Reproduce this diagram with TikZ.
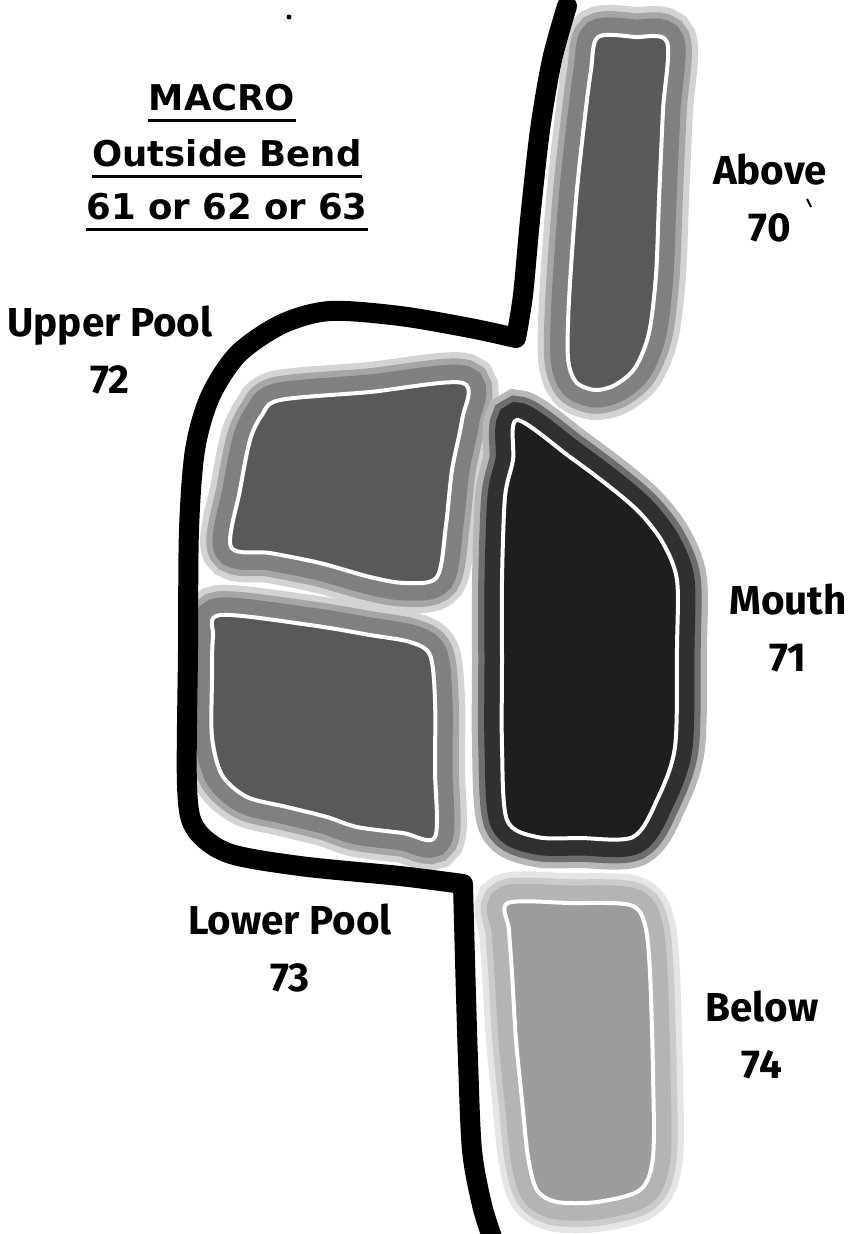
\documentclass[tikz,border=0pt]{standalone}
\usepackage{fontspec}
\setmainfont{Fira Sans}
\newfontfamily\titlefont{DejaVu Sans}
\usepackage{tikz}
\usetikzlibrary{positioning}
\definecolor{poolgray}{HTML}{595959}
\definecolor{halogray}{HTML}{808080}
\definecolor{mouthgray}{HTML}{1E1E1E}
\definecolor{mouthhalo}{HTML}{303030}
\definecolor{belowgray}{HTML}{9C9C9C}
\definecolor{belowhalo}{HTML}{B4B4B4}

\begin{document}
\begin{tikzpicture}[x=0.02cm, y=-0.02cm,
  bank/.style={line width=0.4cm, line cap=round, line join=round},
  lbl/.style={font=\fontsize{23}{32}\selectfont\bfseries, align=center},
  ttl/.style={font=\titlefont\fontsize{20.2}{25}\selectfont\bfseries, inner sep=0pt},
  uline/.style={line width=0.05cm}]
  \useasboundingbox (0,0) rectangle (856,1234);

  % Above
  \foreach \lw/\dc/\fc in {1.2/halogray!35!white/halogray!35!white, 0.95/halogray!70!white/halogray!70!white,
                           0.7/halogray/halogray, 0.08/white/poolgray}
    \draw[line width=\lw cm, draw=\dc, fill=\fc] plot[smooth cycle, tension=0.5] coordinates {
      (598,37) (635,37) (667,42) (663,110) (659,200) (656,275) (649,333) (635,368) (615,385)
      (595,390) (576,382) (568,358) (569,300) (576,200) (584,125) (591,70)};

  % Upper Pool
  \foreach \lw/\dc/\fc in {1.2/halogray!35!white/halogray!35!white, 0.95/halogray!70!white/halogray!70!white,
                           0.7/halogray/halogray, 0.08/white/poolgray}
    \draw[line width=\lw cm, draw=\dc, fill=\fc] plot[smooth cycle, tension=0.5] coordinates {
      (280,400) (370,392) (463,383) (462,420) (452,470) (446,525) (437,577) (405,583) (370,577)
      (320,563) (270,553) (231,547) (240,490) (250,440) (262,415)};

  % Lower Pool
  \foreach \lw/\dc/\fc in {1.2/halogray!35!white/halogray!35!white, 0.95/halogray!70!white/halogray!70!white,
                           0.7/halogray/halogray, 0.08/white/poolgray}
    \draw[line width=\lw cm, draw=\dc, fill=\fc] plot[smooth cycle, tension=0.5] coordinates {
      (220,615) (310,625) (370,635) (410,642) (430,655) (435,700) (435,770) (435,837) (403,833)
      (357,827) (327,817) (287,807) (247,797) (222,775) (212,737) (212,680) (213,637)};

  % Mouth
  \foreach \lw/\dc/\fc in {1.2/mouthhalo!35!white/mouthhalo!35!white, 0.95/mouthhalo!70!white/mouthhalo!70!white,
                           0.7/mouthhalo/mouthhalo, 0.08/white/mouthgray}
    \draw[line width=\lw cm, draw=\dc, fill=\fc] plot[smooth cycle, tension=0.5] coordinates {
      (517,420) (570,457) (610,487) (640,513) (663,543) (677,580) (677,647) (675,747) (657,800)
      (633,837) (580,838) (537,837) (507,820) (502,747) (502,660) (502,580) (505,497) (513,460)};

  % Below
  \foreach \lw/\dc/\fc in {1.2/belowhalo!35!white/belowhalo!35!white, 0.95/belowhalo!70!white/belowhalo!70!white,
                           0.7/belowhalo/belowhalo, 0.08/white/belowgray}
    \draw[line width=\lw cm, draw=\dc, fill=\fc] plot[smooth cycle, tension=0.5] coordinates {
      (508,903) (570,903) (630,905) (645,925) (650,973) (653,1073) (653,1157) (640,1190) (597,1202)
      (557,1202) (537,1190) (528,1157) (522,1100) (516,1040) (512,973) (509,930)};

  % River bank
  \draw[bank] plot[smooth, tension=0.5] coordinates {
      (567,6) (552,60) (540,130) (530,220) (523,295) (516,338)}
    -- plot[smooth, tension=0.5] coordinates {
      (516,338) (470,328) (400,316) (330,311) (282,324) (238,354) (210,397) (195,450) (189,530)
      (188,650) (187,785) (195,828) (228,853) (300,866) (400,876) (463,884)}
    -- plot[smooth, tension=0.5] coordinates {
      (463,884) (465,960) (468,1060) (472,1150) (482,1205) (493,1240)};

  % Specks
  \fill (289,17) circle (2.5);
  \draw[line width=0.04cm] (807,199) -- (811,207);

  % Title
  \node[ttl, anchor=base] (macro) at (222,110) {MACRO~};
  \node[ttl, anchor=base] (bend) at (227,166) {Outside Bend};
  \node[ttl, anchor=base] (codes) at (227,219) {61 or 62 or 63};
  \foreach \t in {macro, bend, codes}
    \draw[uline] ([yshift=-6pt]\t.base west) -- ([yshift=-6pt]\t.base east);

  % Labels
  \node[lbl] (above) at (770,198) {Above\\70};
  \node[lbl] (upper) at (110,350) {Upper Pool\\72};
  \node[lbl] (mouth) at (788,628) {Mouth\\71};
  \node[lbl] (lower) at (290,948) {Lower Pool\\73};
  \node[lbl] (below) at (762,1035) {Below\\74};
\end{tikzpicture}
\end{document}
